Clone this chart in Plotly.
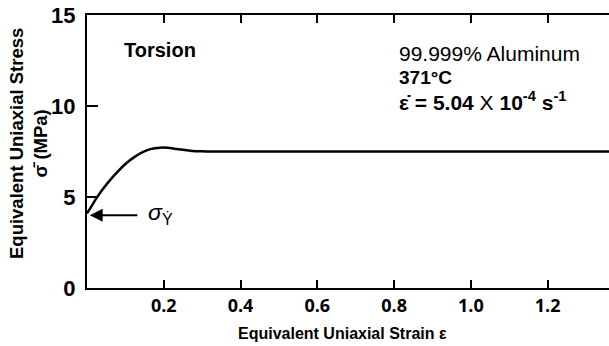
import plotly.graph_objects as go

strain = [0.0, 0.012, 0.025, 0.04, 0.06, 0.08, 0.103, 0.125, 0.145, 0.165, 0.19, 0.21,
          0.233, 0.255, 0.275, 0.3, 0.32, 0.5, 0.8, 1.1, 1.37]
stress = [4.1, 4.5, 4.95, 5.4, 5.93, 6.4, 6.87, 7.22, 7.47, 7.63, 7.71, 7.7,
          7.64, 7.58, 7.53, 7.51, 7.5, 7.5, 7.5, 7.5, 7.5]

x_ticks = [0.2, 0.4, 0.6, 0.8, 1.0, 1.2]
x_tick_labels = ["0.2", "0.4", "0.6", "0.8", "1.0", "1.2"]
y_ticks = [0, 5, 10, 15]
y_tick_labels = ["0", "5", "10", "15"]

fig = go.Figure()
fig.add_trace(go.Scatter(x=strain, y=stress, mode="lines",
                         line=dict(color="black", width=2.5, shape="spline", smoothing=0.6),
                         hoverinfo="skip", showlegend=False))

font_main = "Liberation Sans, Arial, sans-serif"

fig.update_layout(
    width=609, height=346,
    margin=dict(l=87, r=0, t=15, b=58),
    paper_bgcolor="white", plot_bgcolor="white",
    font=dict(family=font_main, color="black"),
    xaxis=dict(range=[0, 1.36], tickvals=x_ticks, ticktext=x_tick_labels,
               ticks="inside", ticklen=8, tickwidth=1.5, tickcolor="black",
               showline=True, linecolor="black", linewidth=2, mirror="ticks",
               showgrid=False, zeroline=False,
               tickfont=dict(size=18, family="Open Sans, sans-serif", weight="bold")),
    yaxis=dict(range=[0, 15], tickvals=y_ticks, ticktext=y_tick_labels,
               ticks="inside", ticklen=11, tickwidth=1.5, tickcolor="black",
               showline=True, linecolor="black", linewidth=2,
               showgrid=False, zeroline=False, ticklabelstandoff=5,
               tickfont=dict(size=22, weight="bold")),
)

# axis titles as annotations (positions in pixel-derived domain fractions)
fig.add_annotation(xref="x domain", yref="y domain", x=(342 - 87) / 522, y=-(333 - 288) / 273,
                   xanchor="center", yanchor="middle", showarrow=False,
                   text="<b>Equivalent Uniaxial Strain ε</b>", font=dict(size=16))
fig.add_annotation(xref="x domain", yref="y domain", x=(28 - 87) / 522, y=(288 - 144) / 273,
                   xanchor="center", yanchor="middle", showarrow=False, textangle=-90,
                   text="<b>Equivalent Uniaxial Stress<br>σ̄ (MPa)</b>", font=dict(size=18.5))

fig.add_annotation(x=0.09, y=13.1, xref="x", yref="y", text="<b>Torsion</b>",
                   showarrow=False, xanchor="left", font=dict(size=20))
fig.add_annotation(x=0.807, y=12.9, xref="x", yref="y", text="99.999% Aluminum",
                   showarrow=False, xanchor="left", font=dict(size=21))
fig.add_annotation(x=0.807, y=11.55, xref="x", yref="y", text="<b>371°C</b>",
                   showarrow=False, xanchor="left", font=dict(size=19))
fig.add_annotation(x=0.807, y=10.3, xref="x", yref="y",
                   text="<b>ε̇ = 5.04 </b>X<b> 10<sup>-4</sup> s<sup>-1</sup></b>",
                   showarrow=False, xanchor="left", font=dict(size=21))

# yield stress arrow
fig.add_annotation(x=0.007, y=4.0, ax=0.135, ay=4.0, xref="x", yref="y", axref="x", ayref="y",
                   text="", showarrow=True, arrowhead=2, arrowsize=1.3, arrowwidth=2, arrowcolor="black")
fig.add_annotation(x=0.155, y=4.1, xref="x", yref="y", text="<i>σ</i><sub>Ẏ</sub>",
                   showarrow=False, xanchor="left", font=dict(size=23))

fig.write_html("out.html")
